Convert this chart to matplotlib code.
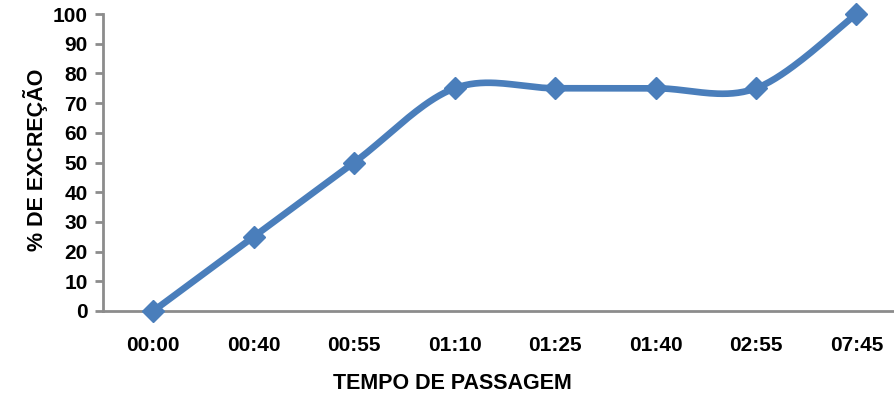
import numpy as np
import matplotlib
matplotlib.use("Agg")
import matplotlib.pyplot as plt

# ── Data ──────────────────────────────────────────────────────────────────────
categories = ["00:00", "00:40", "00:55", "01:10", "01:25", "01:40", "02:55", "07:45"]
excrecao = [0, 25, 50, 75, 75, 75, 75, 100]

BLUE = "#4A7EBB"
GRAY = "#8C8C8C"
FONT = "Liberation Sans"


def smooth(xs, ys, n=40):
    """Excel-style smoothed line: cubic Bezier with Catmull-Rom control points."""
    xs = np.asarray(xs, float)
    ys = np.asarray(ys, float)
    px = np.concatenate([[xs[0]], xs, [xs[-1]]])
    py = np.concatenate([[ys[0]], ys, [ys[-1]]])
    out_x, out_y = [], []
    t = np.linspace(0, 1, n)
    for i in range(1, len(xs)):
        p0 = np.array([px[i], py[i]])
        p3 = np.array([px[i + 1], py[i + 1]])
        c1 = p0 + (np.array([px[i + 1], py[i + 1]]) - np.array([px[i - 1], py[i - 1]])) / 6
        c2 = p3 - (np.array([px[i + 2], py[i + 2]]) - np.array([px[i], py[i]])) / 6
        b = ((1 - t) ** 3)[:, None] * p0 + (3 * (1 - t) ** 2 * t)[:, None] * c1 \
            + (3 * (1 - t) * t ** 2)[:, None] * c2 + (t ** 3)[:, None] * p3
        out_x.extend(b[:, 0])
        out_y.extend(b[:, 1])
    return out_x, out_y


fig = plt.figure(figsize=(8.95, 3.98), dpi=100)
ax = fig.add_axes([0.1151, 0.2186, 0.898, 0.7462])

x = np.arange(len(categories))
sx, sy = smooth(x, excrecao)
ax.plot(sx, sy, color=BLUE, lw=4.8, solid_capstyle="round", zorder=3, clip_on=False)
ax.plot(x, excrecao, ls="none", marker="D", ms=11, color=BLUE, zorder=4, clip_on=False)

ax.set_xlim(-0.5, len(categories) - 0.5)
ax.set_ylim(0, 100)
ax.set_yticks(range(0, 101, 10))
ax.set_xticks(x)
ax.set_xticklabels(categories)

for side in ["top", "right"]:
    ax.spines[side].set_visible(False)
for side in ["left", "bottom"]:
    ax.spines[side].set_color(GRAY)
    ax.spines[side].set_linewidth(2)

ax.tick_params(axis="y", length=6, width=2, color=GRAY, pad=5)
ax.tick_params(axis="x", length=0, pad=18)
for lab in ax.get_xticklabels() + ax.get_yticklabels():
    lab.set_fontfamily(FONT)
    lab.set_fontweight("bold")
    lab.set_fontsize(15)

fig.text(0.506, 0.037, "TEMPO DE PASSAGEM", ha="center", va="center",
         fontfamily=FONT, fontweight="bold", fontsize=15.5)
fig.text(0.040, 0.598, "% DE EXCREÇÃO", ha="center", va="center", rotation=90,
         fontfamily=FONT, fontweight="bold", fontsize=15.5)

fig.savefig("out.png", dpi=100, facecolor="white")
